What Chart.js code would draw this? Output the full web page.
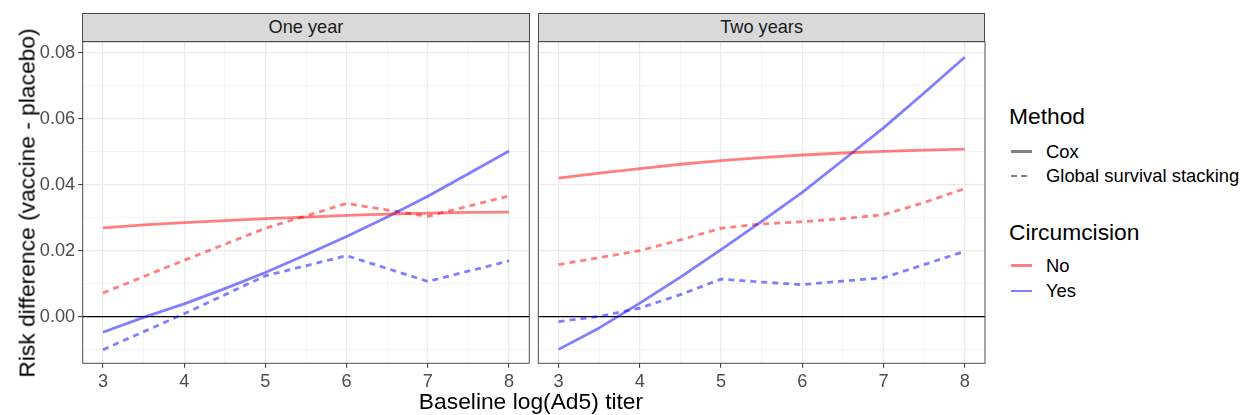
<!DOCTYPE html>
<html><head><meta charset="utf-8">
<script src="https://cdn.jsdelivr.net/npm/chart.js@4.4.0/dist/chart.umd.min.js"></script>
<style>
html,body{margin:0;padding:0;background:#fff;width:1244px;height:415px;overflow:hidden;font-family:"Liberation Sans",Arial,sans-serif;}
#wrap{position:relative;width:1244px;height:415px;}
canvas{position:absolute;top:0;}
.t{position:absolute;white-space:nowrap;line-height:1;}
.strip{position:absolute;box-sizing:border-box;background:#D9D9D9;border:1px solid #4a4a4a;color:#1A1A1A;font-size:18.2px;display:flex;align-items:center;justify-content:center;z-index:3;}
.key{position:absolute;width:21px;height:2.8px;}
</style></head><body><div id="wrap">
<canvas id="c1" width="533" height="415" style="left:0px"></canvas>
<canvas id="c2" width="460" height="415" style="left:530px"></canvas>
<div class="strip" style="left:82.2px;top:13px;width:447.6px;height:29.2px;">One year</div>
<div class="strip" style="left:537.8px;top:13px;width:447.6px;height:29.2px;">Two years</div>
<div class="t" style="left:27px;top:202.5px;font-size:22.8px;color:#000;transform:translate(-50%,-50%) rotate(-90deg);">Risk difference (vaccine - placebo)</div>
<div class="t" style="left:531px;top:401px;font-size:22.8px;color:#000;transform:translate(-50%,-50%);">Baseline log(Ad5) titer</div>
<div class="t" style="left:1009px;top:116px;font-size:22.8px;color:#000;transform:translateY(-50%);">Method</div>
<div class="key" style="left:1011px;top:150.3px;background:#808080;"></div>
<div class="t" style="left:1046px;top:151.7px;font-size:18.4px;color:#000;transform:translateY(-50%);">Cox</div>
<div class="key" style="left:1011px;top:174.6px;background:repeating-linear-gradient(90deg,#808080 0px,#808080 5.5px,transparent 5.5px,transparent 10.5px);"></div>
<div class="t" style="left:1046px;top:176px;font-size:18.4px;color:#000;transform:translateY(-50%);">Global survival stacking</div>
<div class="t" style="left:1009px;top:231.7px;font-size:22.8px;color:#000;transform:translateY(-50%);">Circumcision</div>
<div class="key" style="left:1011px;top:264.3px;background:#FF8080;"></div>
<div class="t" style="left:1046px;top:265.7px;font-size:18.4px;color:#000;transform:translateY(-50%);">No</div>
<div class="key" style="left:1011px;top:289.6px;background:#8080FF;"></div>
<div class="t" style="left:1046px;top:291px;font-size:18.4px;color:#000;transform:translateY(-50%);">Yes</div>
</div>
<script>
// ---- data ----
const xFine = [3, 3.5, 4, 4.5, 5, 5.5, 6, 6.5, 7, 7.5, 8];
const xCoarse = [3, 4, 5, 6, 7, 8];
const xTickValues = [3, 4, 5, 6, 7, 8];
const xTickLabels = ['3', '4', '5', '6', '7', '8'];
const yTickValues = [0, 0.02, 0.04, 0.06, 0.08];
const yTickLabels = ['0.00', '0.02', '0.04', '0.06', '0.08'];

// One year
const oneYearCoxNo  = [0.0269, 0.0278, 0.0285, 0.0291, 0.0297, 0.0302, 0.0307, 0.0311, 0.0314, 0.0316, 0.0317];
const oneYearCoxYes = [-0.0047, -0.0002, 0.0039, 0.0085, 0.0134, 0.0188, 0.0243, 0.0302, 0.0365, 0.0433, 0.0502];
const oneYearGssNo  = [0.0072, 0.0171, 0.0268, 0.0343, 0.0304, 0.0366];
const oneYearGssYes = [-0.0100, 0.0009, 0.0124, 0.0185, 0.0107, 0.0169];
// Two years
const twoYearCoxNo  = [0.0420, 0.0435, 0.0449, 0.0462, 0.0473, 0.0482, 0.0490, 0.0496, 0.0501, 0.0505, 0.0508];
const twoYearCoxYes = [-0.0099, -0.0034, 0.0041, 0.0120, 0.0203, 0.0289, 0.0377, 0.0474, 0.0572, 0.0678, 0.0786];
const twoYearGssNo  = [0.0158, 0.0179, 0.0200, 0.0233, 0.0268, 0.0281, 0.0288, 0.0297, 0.0309, 0.0346, 0.0388];
const twoYearGssYes = [-0.0015, 0.0001, 0.0026, 0.0067, 0.0114, 0.0105, 0.0097, 0.0108, 0.0118, 0.0158, 0.0198];

// ---- layout / style ----
const FONT = "'Liberation Sans', Arial, sans-serif";
const RED = 'rgba(255,0,0,0.5)', BLUE = 'rgba(0,0,255,0.5)';
const DASH = [6, 5];
const PANEL_TOP = 41.7, PANEL_BOTTOM = 363.3, CANVAS_H = 415;
const YMIN = -0.01412, YMAX = 0.08333;
const X_MIN = 2.75, X_MAX = 8.25;
const xGrid = [3, 3.5, 4, 4.5, 5, 5.5, 6, 6.5, 7, 7.5, 8];
const yGrid = [-0.01, 0, 0.01, 0.02, 0.03, 0.04, 0.05, 0.06, 0.07, 0.08];

function pts(xs, ys) { return xs.map((x, i) => ({ x: x, y: ys[i] })); }
const isXMajor = v => xTickValues.some(m => Math.abs(m - v) < 1e-9);
const isYMajor = v => yTickValues.some(m => Math.abs(m - v) < 1e-9);

const framePlugin = {
  id: 'frame',
  beforeDatasetsDraw(chart) {
    const { ctx, chartArea: a, scales } = chart;
    const y0 = scales.y.getPixelForValue(0);
    ctx.save();
    ctx.strokeStyle = '#000'; ctx.lineWidth = 1.2;
    ctx.beginPath(); ctx.moveTo(a.left, y0); ctx.lineTo(a.right, y0); ctx.stroke();
    ctx.restore();
  },
  afterDraw(chart) {
    const { ctx, chartArea: a } = chart;
    ctx.save();
    ctx.strokeStyle = '#4a4a4a'; ctx.lineWidth = 1;
    ctx.strokeRect(a.left, a.top, a.right - a.left, a.bottom - a.top);
    ctx.restore();
  }
};

function ds(xs, ys, color, dashed) {
  return { data: pts(xs, ys), borderColor: color, borderWidth: 2.8, borderDash: dashed ? DASH : [],
           pointRadius: 0, fill: false, tension: 0, borderCapStyle: 'butt', borderJoinStyle: 'round' };
}

function makeChart(id, series, showY, yWidth, padRight) {
  return new Chart(document.getElementById(id), {
    type: 'line',
    data: { datasets: [
      ds(xFine, series.coxNo, RED, false),
      ds(xFine, series.coxYes, BLUE, false),
      ds(series.gssX, series.gssNo, RED, true),
      ds(series.gssX, series.gssYes, BLUE, true)
    ] },
    options: {
      responsive: false, animation: false, devicePixelRatio: 1,
      layout: { padding: { top: PANEL_TOP, right: padRight, left: 0, bottom: 0 } },
      plugins: { legend: { display: false }, tooltip: { enabled: false } },
      scales: {
        x: {
          type: 'linear', min: X_MIN, max: X_MAX,
          afterBuildTicks: s => { s.ticks = xGrid.map(v => ({ value: v })); },
          afterFit: s => { s.height = CANVAS_H - PANEL_BOTTOM; s.paddingLeft = 0; s.paddingRight = 0; },
          ticks: {
            autoSkip: false, maxRotation: 0, padding: 3, color: '#4D4D4D',
            font: { size: 18.2, family: FONT },
            callback: v => { const i = xTickValues.findIndex(m => Math.abs(m - v) < 1e-9); return i >= 0 ? xTickLabels[i] : ''; }
          },
          grid: {
            color: '#EBEBEB',
            lineWidth: c => (c.tick && isXMajor(c.tick.value)) ? 1.2 : 0.6,
            tickColor: c => (c.tick && isXMajor(c.tick.value)) ? '#333333' : 'rgba(0,0,0,0)',
            tickLength: 4.5, tickWidth: 1, drawTicks: true
          },
          border: { display: false }
        },
        y: {
          type: 'linear', min: YMIN, max: YMAX,
          afterBuildTicks: s => { s.ticks = yGrid.map(v => ({ value: v })); },
          afterFit: s => { s.width = yWidth; s.paddingTop = 0; s.paddingBottom = 0; },
          ticks: {
            display: showY, autoSkip: false, padding: 3, color: '#4D4D4D',
            font: { size: 18.2, family: FONT },
            callback: v => { const i = yTickValues.findIndex(m => Math.abs(m - v) < 1e-9); return i >= 0 ? yTickLabels[i] : ''; }
          },
          grid: {
            color: '#EBEBEB',
            lineWidth: c => (c.tick && isYMajor(c.tick.value)) ? 1.2 : 0.6,
            tickColor: c => (showY && c.tick && isYMajor(c.tick.value)) ? '#333333' : 'rgba(0,0,0,0)',
            tickLength: showY ? 4.5 : 0, tickWidth: 1, drawTicks: showY
          },
          border: { display: false }
        }
      }
    },
    plugins: [framePlugin]
  });
}

makeChart('c1', { coxNo: oneYearCoxNo, coxYes: oneYearCoxYes, gssX: xCoarse, gssNo: oneYearGssNo, gssYes: oneYearGssYes },
  true, 82.7, 533 - 529.3);
makeChart('c2', { coxNo: twoYearCoxNo, coxYes: twoYearCoxYes, gssX: xFine, gssNo: twoYearGssNo, gssYes: twoYearGssYes },
  false, 538.3 - 530, 460 - (985 - 530));
</script>
</body></html>
